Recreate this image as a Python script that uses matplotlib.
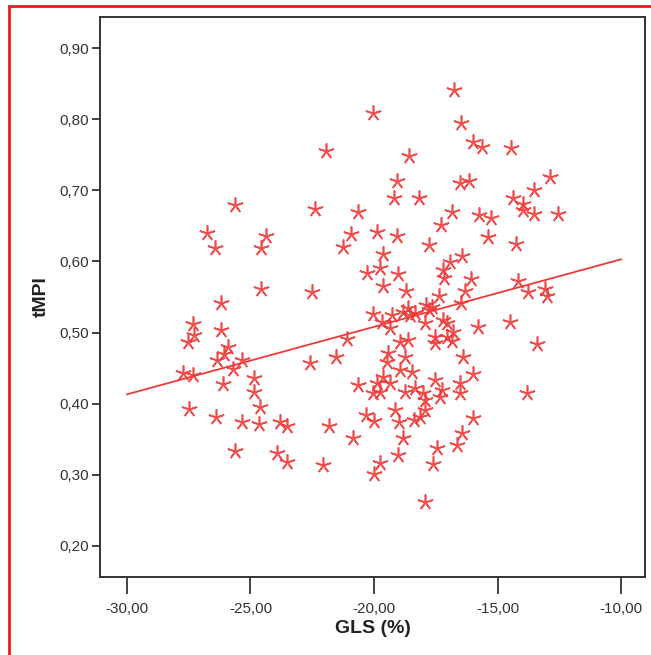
import matplotlib
matplotlib.use("Agg")
import matplotlib.pyplot as plt
from matplotlib.patches import Rectangle
import numpy as np

# GLS (%) values
gls = [
    -16.76, -20.04, -16.48, -15.99, -15.63, -14.45, -21.94, -18.58, -12.87, -19.07,
    -16.52, -16.15, -13.52, -19.19, -18.18, -14.37, -25.63, -13.97, -13.97, -22.39,
    -20.65, -16.84, -15.75, -15.26, -13.52, -12.55, -17.29, -26.76, -24.37, -20.93,
    -19.88, -19.07, -15.38, -26.44, -24.57, -21.26, -17.77, -14.25, -19.64, -16.44,
    -16.92, -20.28, -19.76, -19.03, -17.21, -17.17, -16.07, -14.17, -19.64, -18.70,
    -24.57, -22.51, -16.32, -13.77, -13.08, -13.00, -17.37, -16.48, -26.19, -20.04,
    -19.68, -19.27, -19.35, -18.83, -18.62, -18.54, -18.34, -17.89, -17.77, -17.65,
    -17.94, -17.21, -17.04, -14.49, -15.79, -27.33, -26.19, -27.29, -27.53, -21.09,
    -16.80, -17.04, -17.53, -17.53, -18.95, -18.62, -16.84, -13.40, -25.91, -26.07,
    -26.36, -25.34, -21.54, -19.43, -19.47, -18.74, -16.40, -25.71, -22.59, -27.73,
    -27.33, -24.86, -18.95, -18.46, -15.99, -26.11, -19.64, -20.65, -19.88, -19.35,
    -17.53, -16.52, -24.86, -20.04, -19.76, -18.74, -18.34, -18.02, -17.25, -17.33,
    -16.52, -13.81, -17.94, -24.62, -27.49, -19.15, -17.94, -26.40, -25.34, -24.66,
    -23.81, -20.32, -20.00, -18.99, -18.38, -18.14, -15.99, -23.52, -21.82, -20.85,
    -18.83, -16.44, -17.45, -16.64, -25.63, -23.93, -23.52, -22.06, -19.76, -19.03,
    -17.61, -20.00, -17.94,
]

# tMPI values
tmpi = [
    0.841, 0.809, 0.795, 0.768, 0.761, 0.759, 0.755, 0.748, 0.719, 0.713,
    0.710, 0.713, 0.700, 0.690, 0.690, 0.689, 0.679, 0.681, 0.672, 0.674,
    0.669, 0.669, 0.665, 0.661, 0.667, 0.667, 0.651, 0.640, 0.636, 0.638,
    0.641, 0.636, 0.634, 0.619, 0.619, 0.620, 0.623, 0.624, 0.610, 0.608,
    0.599, 0.584, 0.591, 0.582, 0.588, 0.577, 0.575, 0.572, 0.565, 0.558,
    0.561, 0.557, 0.558, 0.557, 0.561, 0.551, 0.551, 0.541, 0.541, 0.526,
    0.515, 0.525, 0.506, 0.529, 0.534, 0.525, 0.527, 0.539, 0.532, 0.536,
    0.513, 0.518, 0.513, 0.515, 0.508, 0.512, 0.504, 0.496, 0.487, 0.491,
    0.501, 0.494, 0.494, 0.485, 0.487, 0.489, 0.488, 0.484, 0.480, 0.470,
    0.461, 0.461, 0.466, 0.471, 0.459, 0.466, 0.466, 0.449, 0.457, 0.443,
    0.440, 0.436, 0.447, 0.444, 0.442, 0.428, 0.437, 0.426, 0.429, 0.429,
    0.433, 0.429, 0.416, 0.415, 0.416, 0.416, 0.422, 0.415, 0.419, 0.409,
    0.415, 0.415, 0.405, 0.395, 0.392, 0.391, 0.391, 0.381, 0.374, 0.371,
    0.374, 0.384, 0.376, 0.374, 0.377, 0.381, 0.380, 0.369, 0.369, 0.352,
    0.352, 0.359, 0.338, 0.342, 0.333, 0.331, 0.318, 0.314, 0.317, 0.328,
    0.315, 0.301, 0.262,
]

# fit line: value at x = -30 and slope
fit_x = [-30.0, -10.0]
fit_start = 0.413
fit_slope = 0.0095

x_ticks = [-30, -25, -20, -15, -10]
y_ticks = [0.20, 0.30, 0.40, 0.50, 0.60, 0.70, 0.80, 0.90]

red = "#ef3a3a"

plt.rcParams['font.family'] = ['Liberation Sans', 'DejaVu Sans']

fig = plt.figure(figsize=(6.51, 6.55), dpi=100)
ax = fig.add_axes([100 / 651, 1 - 577 / 655, 545 / 651, 560 / 655])

ax.plot(gls, tmpi, linestyle='none', marker=(5, 2, 0), markersize=11.5,
        markeredgewidth=1.2, color=red, alpha=0.9)

fx = np.array(fit_x)
ax.plot(fx, fit_start + fit_slope * (fx - fit_x[0]), color=red, linewidth=1.3)

ax.set_xlim(-31.09, -9.03)
ax.set_ylim(0.156, 0.944)
ax.set_xticks(x_ticks)
ax.set_yticks(y_ticks)
ax.set_yticklabels([('%.2f' % v).replace('.', ',') for v in y_ticks])
ax.set_xticklabels([('%.2f' % v).replace('.', ',') for v in x_ticks])

for s in ax.spines.values():
    s.set_color('#333333')
    s.set_linewidth(1.4)
ax.tick_params(axis='y', direction='out', length=6, width=1.3, color='#333333',
               labelsize=11, labelcolor='#333333', pad=2)
ax.tick_params(axis='x', direction='out', length=12, width=1.3, color='#333333',
               labelsize=11, labelcolor='#333333', pad=6)

ax.set_xlabel('GLS (%)', fontsize=14, fontweight='bold', color='#222222', labelpad=3)
ax.set_ylabel('tMPI', fontsize=14, fontweight='bold', color='#222222', labelpad=7)

# red frame around the picture, cut by the right and bottom edges
fig.patches.append(Rectangle((9 / 651, -0.1), 1.2, 1.1 - 6 / 655, fill=False,
                             edgecolor='#ee1c1c', linewidth=2,
                             transform=fig.transFigure, clip_on=False))

fig.savefig('out.png', dpi=100)
